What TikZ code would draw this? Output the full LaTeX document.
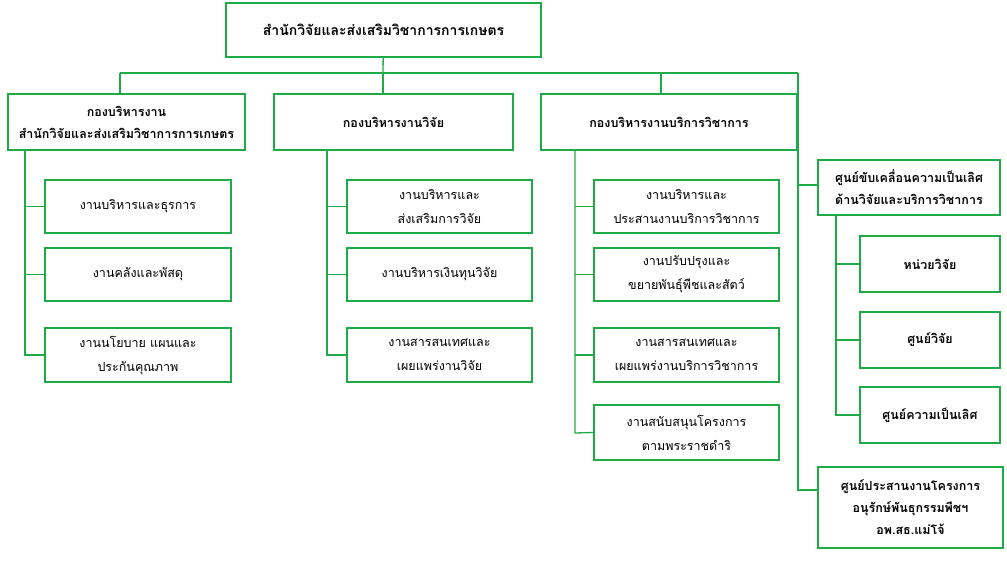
\documentclass[tikz,border=0pt]{standalone}
\usepackage{fontspec}
\newfontfamily\thaifont[Script=Thai]{Loma}
\definecolor{orggreen}{RGB}{30,170,70}
\tikzset{
    unit/.style={draw=orggreen, line width=1.3pt, fill=white, align=center, font=\thaifont\fontsize{12.5}{24}\selectfont, inner sep=1pt},
    headunit/.style={unit, font=\thaifont\bfseries\fontsize{12.5}{22}\selectfont},
    link/.style={draw=orggreen, line width=1.3pt}
}
\begin{document}
\begin{tikzpicture}[x=1pt,y=-1pt]
    \useasboundingbox (0,0) rectangle (1007,562);

    % top unit
    \node[headunit, minimum width=315, minimum height=54, font=\thaifont\bfseries\fontsize{14}{18}\selectfont] (top) at (383.5,30) {สำนักวิจัยและส่งเสริมวิชาการการเกษตร};

    % divisions
    \node[headunit, minimum width=237, minimum height=56] (div1) at (126.5,122) {กองบริหารงาน\\สำนักวิจัยและส่งเสริมวิชาการการเกษตร};
    \node[headunit, minimum width=239, minimum height=56] (div2) at (393.5,122) {กองบริหารงานวิจัย};
    \node[headunit, minimum width=256, minimum height=56] (div3) at (669,122) {กองบริหารงานบริการวิชาการ};
    \node[headunit, minimum width=182, minimum height=55] (div4) at (909,187.5) {ศูนย์ขับเคลื่อนความเป็นเลิศ\\ด้านวิจัยและบริการวิชาการ};
    \node[headunit, minimum width=185, minimum height=81] (div5) at (910.5,507.5) {ศูนย์ประสานงานโครงการ\\อนุรักษ์พันธุกรรมพืชฯ\\อพ.สธ.แม่โจ้};

    % bus
    \coordinate (busL) at (120,73);
    \coordinate (busM) at (383,73);
    \coordinate (busR) at (798,73);
    \draw[link] (busL) -- (busR);
    \draw[link] (top) -- (busM);
    \draw[link] (busL) -- (120,94);
    \draw[link] (busM) -- (383,94);
    \draw[link] (661,73) -- (661,94);
    \draw[link] (busR) -- (798,490) -- (div5.west |- 0,490);
    \draw[link] (798,185) -- (div4.west |- 0,185);

    % column 1
    \node[unit, minimum width=186, minimum height=53] (a1) at (138,206.5) {งานบริหารและธุรการ};
    \node[unit, minimum width=186, minimum height=53] (a2) at (138,274.5) {งานคลังและพัสดุ};
    \node[unit, minimum width=186, minimum height=54] (a3) at (138,355) {งานนโยบาย แผนและ\\ประกันคุณภาพ};
    \draw[link] (25,150) -- (25,355) -- (a3.west);
    \foreach \n in {a1,a2} \draw[link] (25,0 |- \n.west) -- (\n.west);

    % column 2
    \node[unit, minimum width=185, minimum height=53] (b1) at (439.5,206.5) {งานบริหารและ\\ส่งเสริมการวิจัย};
    \node[unit, minimum width=185, minimum height=53] (b2) at (439.5,274.5) {งานบริหารเงินทุนวิจัย};
    \node[unit, minimum width=185, minimum height=54] (b3) at (439.5,355) {งานสารสนเทศและ\\เผยแพร่งานวิจัย};
    \draw[link] (327,150) -- (327,355) -- (b3.west);
    \foreach \n in {b1,b2} \draw[link] (327,0 |- \n.west) -- (\n.west);

    % column 3
    \node[unit, minimum width=185, minimum height=53] (c1) at (686.5,206.5) {งานบริหารและ\\ประสานงานบริการวิชาการ};
    \node[unit, minimum width=185, minimum height=53] (c2) at (686.5,274.5) {งานปรับปรุงและ\\ขยายพันธุ์พืชและสัตว์};
    \node[unit, minimum width=185, minimum height=54] (c3) at (686.5,355) {งานสารสนเทศและ\\เผยแพร่งานบริการวิชาการ};
    \node[unit, minimum width=185, minimum height=55] (c4) at (686.5,432.5) {งานสนับสนุนโครงการ\\ตามพระราชดำริ};
    \draw[link] (575,150) -- (575,433) -- (c4.west);
    \foreach \n in {c1,c2,c3} \draw[link] (575,0 |- \n.west) -- (\n.west);

    % centre units
    \node[headunit, minimum width=140, minimum height=56] (d1) at (930,264) {หน่วยวิจัย};
    \node[headunit, minimum width=140, minimum height=56] (d2) at (930,340) {ศูนย์วิจัย};
    \node[headunit, minimum width=140, minimum height=56] (d3) at (930,415) {ศูนย์ความเป็นเลิศ};
    \draw[link] (836,215) -- (836,415) -- (d3.west);
    \foreach \n in {d1,d2} \draw[link] (836,0 |- \n.west) -- (\n.west);
\end{tikzpicture}
\end{document}
